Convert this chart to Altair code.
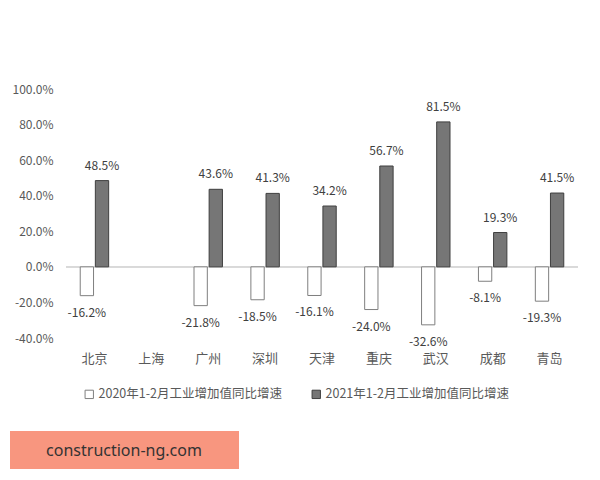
import altair as alt
import pandas as pd

cities = ["北京", "上海", "广州", "深圳", "天津", "重庆", "武汉", "成都", "青岛"]
v2020 = [-16.2, None, -21.8, -18.5, -16.1, -24.0, -32.6, -8.1, -19.3]
v2021 = [48.5, None, 43.6, 41.3, 34.2, 56.7, 81.5, 19.3, 41.5]
series = ["2020年1-2月工业增加值同比增速", "2021年1-2月工业增加值同比增速"]
y_ticks = [-40, -20, 0, 20, 40, 60, 80, 100]

rows = []
for i, c in enumerate(cities):
    for s, vals in zip(series, [v2020, v2021]):
        v = vals[i]
        if v is None:
            continue
        rows.append({"city": c, "series": s, "value": v, "label": f"{v:.1f}%"})
df = pd.DataFrame(rows)

FONT = "Noto Sans CJK SC"

yscale = alt.Scale(domain=[-40, 100], nice=False, zero=False)
yaxis = alt.Axis(values=y_ticks, domain=False, ticks=False, grid=False,
                 labelOverlap=False,
                 labelExpr="datum.value + '.0%'", labelColor="#595959",
                 labelFontSize=12, labelPadding=13, labelFont=FONT)

x = alt.X("city:N", sort=cities, title=None,
          scale=alt.Scale(domain=cities, paddingInner=0.5, paddingOuter=0.25),
          axis=alt.Axis(domain=False, ticks=False, labelAngle=0, labelColor="#595959",
                        labelFontSize=13, labelPadding=14, labelFont=FONT))
xo = alt.XOffset("series:N", sort=series, scale=alt.Scale(domain=series, paddingInner=0.12))
y = alt.Y("value:Q", title=None, scale=yscale, axis=yaxis)

legend = alt.Legend(orient="none", legendX=17, legendY=299, direction="horizontal",
                    symbolType="square", symbolSize=70, symbolStrokeWidth=1,
                    labelFontSize=12.5, labelColor="#595959", labelFont=FONT,
                    labelLimit=0, columnPadding=28, labelOffset=3)

base = alt.Chart(df)

zero = base.mark_rule(color="#d9d9d9", strokeWidth=1).encode(
    y=alt.Y(datum=0, type="quantitative", title=None, scale=yscale, axis=yaxis))

bars = base.mark_bar(strokeWidth=1).encode(
    x=x, xOffset=xo, y=y,
    fill=alt.Fill("series:N", sort=series, title=None,
                  scale=alt.Scale(domain=series, range=["#ffffff", "#767676"]),
                  legend=legend),
    stroke=alt.Stroke("series:N", sort=series, title=None,
                      scale=alt.Scale(domain=series, range=["#7f7f7f", "#3f3f3f"]),
                      legend=legend),
)

pos_text = base.transform_filter("datum.value >= 0").mark_text(
    baseline="middle", dy=-15, fontSize=12, color="#404040", font=FONT
).encode(x=x, xOffset=xo, y=y, text="label:N")

neg_text = base.transform_filter("datum.value < 0").mark_text(
    baseline="middle", dy=17, fontSize=12, color="#404040", font=FONT
).encode(x=x, xOffset=xo, y=y, text="label:N")

wm_data = alt.Data(values=[{"t": "construction-ng.com"}])
wm_rect = alt.Chart(wm_data).mark_rect(color="#F8967F").encode(
    x=alt.value(-56), x2=alt.value(173), y=alt.value(342), y2=alt.value(380))
wm_text = alt.Chart(wm_data).mark_text(fontSize=16, color="#333333", font="Noto Sans",
                                       baseline="middle", align="center").encode(
    x=alt.value(58), y=alt.value(362), text="t:N")

chart = alt.layer(zero, bars, pos_text, neg_text, wm_rect, wm_text).properties(
    width=512, height=249,
    autosize=alt.AutoSizeParams(type="none"),
    padding={"left": 58, "top": 81, "right": 14, "bottom": 134},
).configure_view(stroke=None).configure_axisY(labelOverlap=False)

chart.save("out.html", embed_options={"renderer": "svg", "actions": False})
